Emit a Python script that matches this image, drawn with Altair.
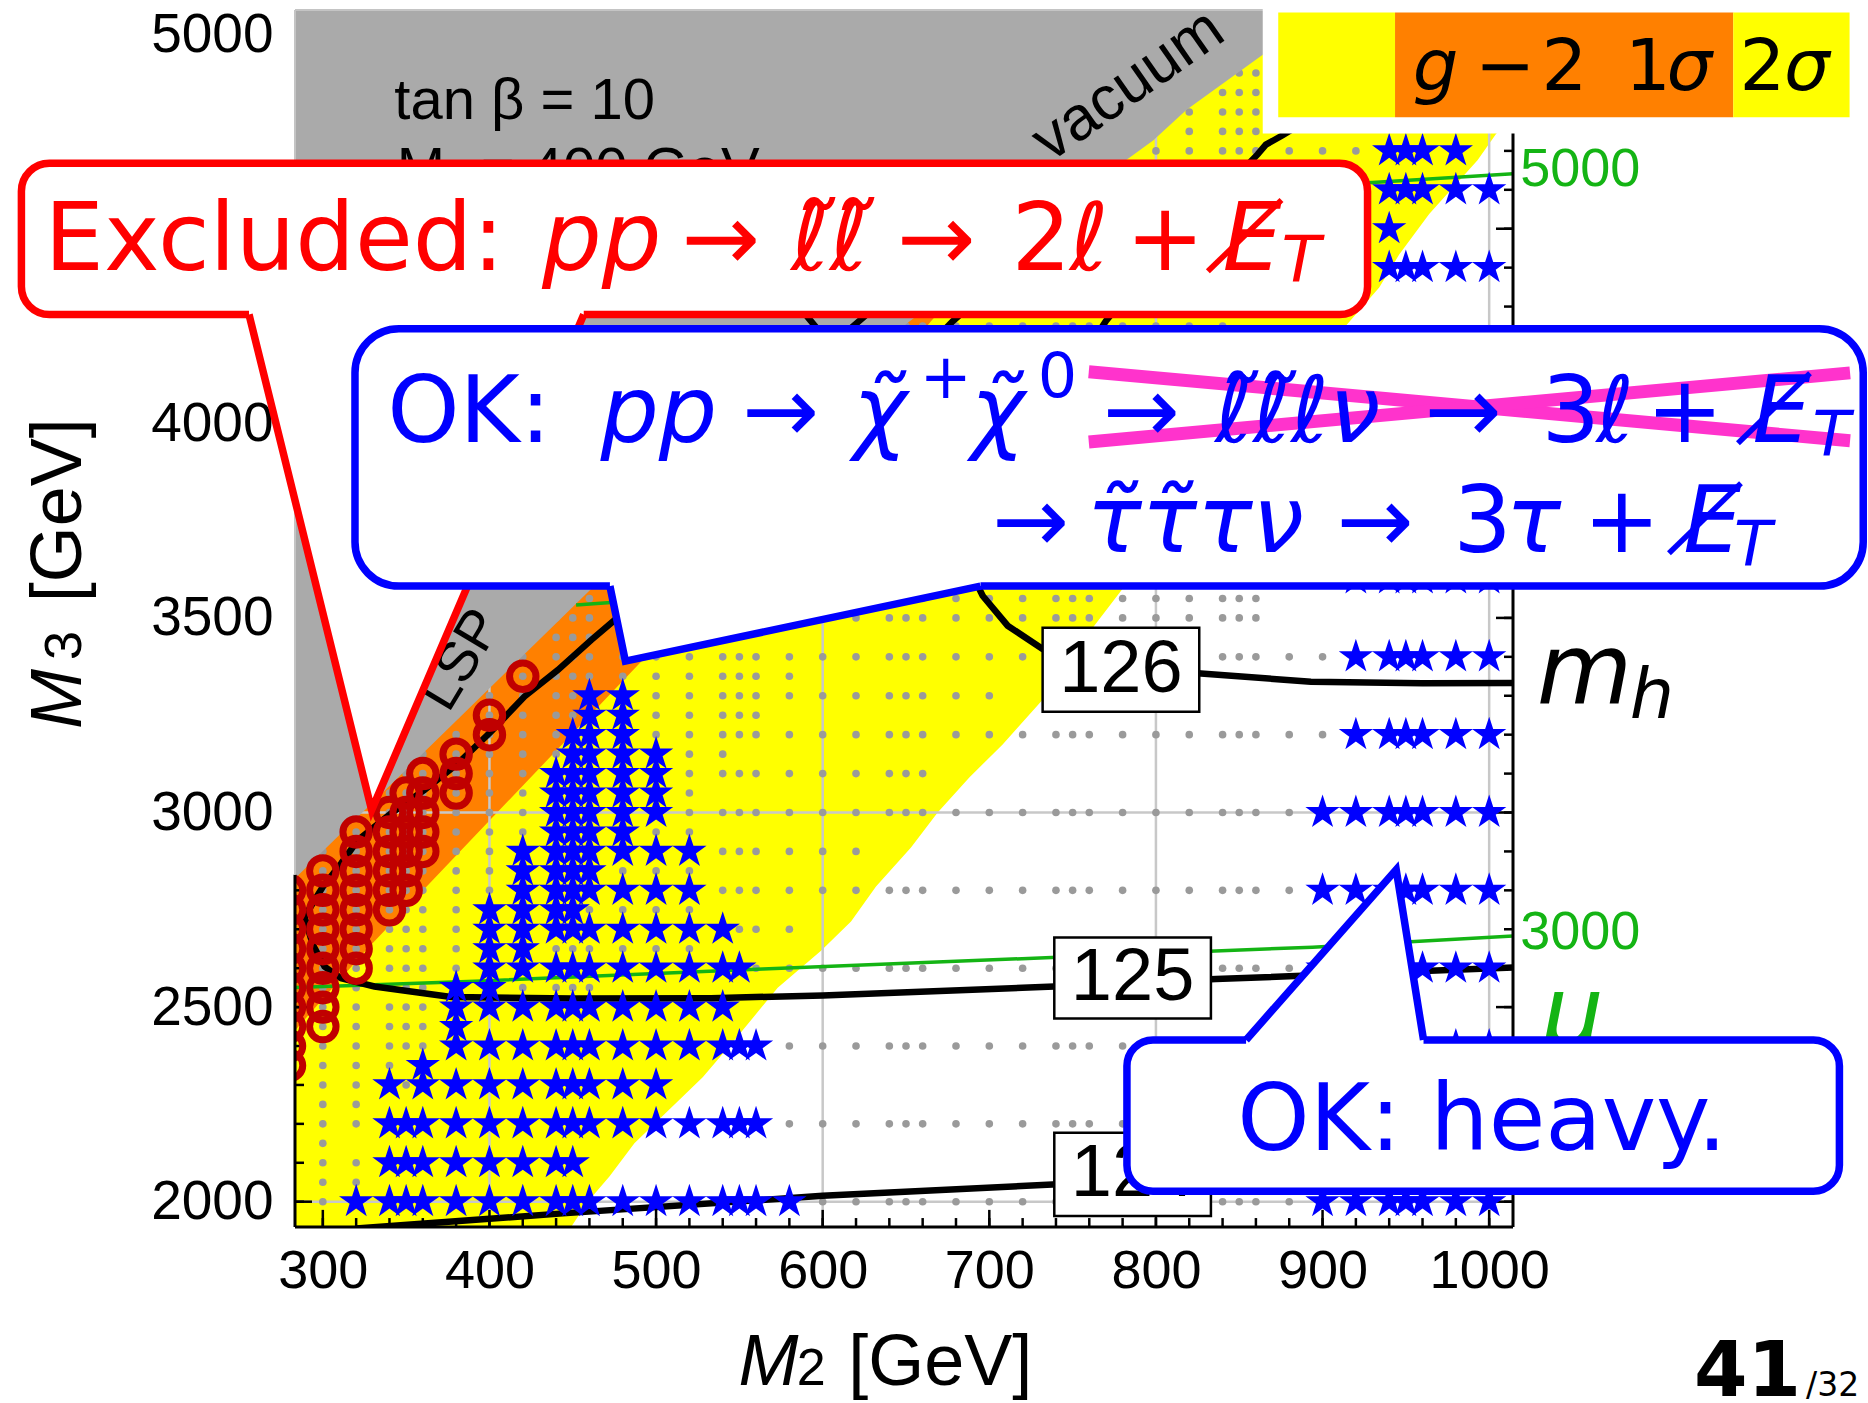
import altair as alt
import pandas as pd

# ------------------------------------------------------------------
# values
# ------------------------------------------------------------------
x_tick_labels = [300, 400, 500, 600, 700, 800, 900, 1000]
y_tick_labels = [2000, 2500, 3000, 3500, 4000, 4500, 5000]
x_grid = [400, 600, 800, 1000]
y_grid = [2000, 3000, 4000, 5000]
x_minor = list(range(300, 1001, 20))
x_major = list(range(300, 1001, 100))
y_minor = list(range(2000, 5001, 100))
y_major = list(range(2000, 5001, 500))

# scan columns in M2
m2_columns = [300, 320, 340, 350, 360, 380, 400, 420, 440, 450, 460, 480,
              500, 520, 540, 550, 560, 580, 600, 620, 640, 650, 660, 680,
              700, 720, 740, 750, 760, 780, 800, 820, 840, 850, 860, 880,
              900, 920, 940, 950, 960, 980, 1000]

# grey scan points: (M3 row, last M2 column with a point)
dot_rows = [
    (2000, 1000), (2050, 320), (2100, 450), (2150, 300), (2200, 1000), (2250, 320),
    (2300, 500), (2350, 340), (2400, 1000), (2450, 360), (2500, 540), (2550, 460),
    (2600, 1000), (2650, 520), (2700, 580), (2750, 520), (2800, 1000), (2850, 520),
    (2900, 620), (2950, 520), (3000, 1000), (3050, 520), (3100, 660), (3150, 540),
    (3200, 1000), (3250, 560), (3300, 700), (3350, 580), (3400, 1000), (3450, 520),
    (3500, 860), (3550, 860), (4250, 840), (4700, 920), (4750, 860), (4800, 860),
    (4850, 860), (4900, 860), (4950, 860), (5000, 860),
]

# blue stars (allowed points): M3 row -> M2 values
star_rows = {
    2000: [320, 340, 350, 360, 380, 400, 420, 440, 450, 460, 480, 500, 520, 540, 550, 560, 580,
           900, 920, 940, 950, 960, 980, 1000],
    2100: [340, 350, 360, 380, 400, 420, 440, 450],
    2200: [340, 350, 360, 380, 400, 420, 440, 450, 460, 480, 500, 520, 540, 550, 560,
           900, 920, 940, 950, 960, 980, 1000],
    2300: [340, 360, 380, 400, 420, 440, 450, 460, 480, 500],
    2350: [360],
    2400: [380, 400, 420, 440, 450, 460, 480, 500, 520, 540, 550, 560,
           900, 920, 940, 950, 960, 980, 1000],
    2450: [380],
    2500: [380, 400, 420, 440, 450, 460, 480, 500, 520, 540],
    2550: [380, 400],
    2600: [400, 420, 440, 450, 460, 480, 500, 520, 540, 550,
           900, 920, 940, 950, 960, 980, 1000],
    2650: [400, 420],
    2700: [400, 420, 440, 450, 460, 480, 500, 520, 540],
    2750: [400, 420, 440, 450],
    2800: [420, 440, 450, 460, 480, 500, 520, 900, 920, 940, 950, 960, 980, 1000],
    2850: [420, 440, 450, 460],
    2900: [420, 440, 450, 460, 480, 500, 520],
    2950: [440, 450, 460, 480],
    3000: [440, 450, 460, 480, 500, 900, 920, 940, 950, 960, 980, 1000],
    3050: [440, 450, 460, 480, 500],
    3100: [440, 450, 460, 480, 500],
    3150: [450, 460, 480, 500],
    3200: [450, 460, 480, 920, 940, 950, 960, 980, 1000],
    3250: [460, 480],
    3300: [460, 480],
    3400: [920, 940, 950, 960, 980, 1000],
    3600: [920, 940, 950, 960, 980, 1000],
    4400: [940, 950, 960, 980, 1000],
    4500: [940],
    4600: [940, 950, 960, 980, 1000],
    4700: [940, 950, 960, 980],
}

# dark-red rings (excluded points): M2 column -> M3 values
ring_cols = {
    280: [2350, 2400, 2450, 2500, 2550, 2600, 2650, 2700, 2750, 2800],
    300: [2450, 2500, 2550, 2600, 2650, 2700, 2750, 2800, 2850],
    320: [2600, 2650, 2700, 2750, 2800, 2850, 2900, 2950],
    340: [2750, 2800, 2850, 2900, 2950, 3000],
    350: [2800, 2850, 2900, 2950, 3000, 3050],
    360: [2900, 2950, 3000, 3050, 3100],
    380: [3050, 3100, 3150],
    400: [3200, 3250],
    420: [3350],
}

# region boundaries (M3 -> M2 of the right edge)
yellow_m3 = [1900, 1935, 2000, 2065, 2150, 2225, 2320, 2430, 2550, 2645, 2720, 2810, 2910,
             3000, 3090, 3175, 3290, 3480, 3575, 3800, 4000, 4251, 4349, 4434, 4538, 4676,
             4743, 4800, 5100]
yellow_m2 = [443, 449, 459, 472, 487, 505, 528, 550, 573, 599, 617, 632, 653,
             669, 688, 708, 732, 763, 780, 830, 870, 914, 934, 946, 964, 993,
             1004, 1016, 1016]
orange_m3 = [2380, 2440, 2647, 3392, 3800, 4262, 4380]
orange_m2 = [271, 283.3, 326, 492, 575, 665, 689]
gray_m3 = [2790, 2835, 3572, 4261, 4678, 4727, 4806, 4947, 5100]
gray_m2 = [273, 284.3, 460.4, 651.8, 782.6, 798.3, 818.4, 864.1, 910]

# Higgs-mass contours
c124_m2 = [320, 444, 600, 741, 832, 1020]
c124_m3 = [1931, 1970, 2015, 2045, 2065, 2112]
c125_m2 = [1020, 836, 739, 600, 533, 450, 377, 331, 311, 301, 294, 289, 300, 311, 321, 341,
           361, 381, 401, 421, 441, 461, 475, 560, 630, 678, 740]
c125_m3 = [2603, 2572, 2553, 2530, 2523, 2522, 2526, 2553, 2574, 2604, 2660, 2732, 2809, 2869,
           2929, 2998, 3058, 3126, 3208, 3298, 3366, 3443, 3494, 3800, 4050, 4262, 4500]
c126_m2 = [1020, 960, 893, 825, 800, 760, 732, 711, 696, 689, 700, 730, 770, 800, 861, 866,
           876, 882, 900]
c126_m3 = [3333, 3332, 3336, 3358, 3365, 3385, 3420, 3480, 3557, 3618, 3800, 4000, 4263,
           4420, 4691, 4716, 4740, 4756, 4820]
cv_m2 = [580, 605, 640]
cv_m3 = [4330, 4200, 4330]

# mu contours (green)
g3000_m2 = [275, 400, 564, 741, 894, 1020]
g3000_m3 = [2549, 2568, 2598, 2628, 2654, 2684]
g4000_m2 = [452, 475, 600, 800, 1020]
g4000_m3 = [3533, 3540, 3565, 3605, 3650]
g5000_m2 = [761, 850, 930, 1020]
g5000_m3 = [4590, 4605, 4619, 4643]

# ------------------------------------------------------------------
# styling
# ------------------------------------------------------------------
RED = "#FF0000"
BLUE = "#0000FF"
GREEN = "#14B414"
BLACK = "#000000"
STAR = ("M0,-1L0.2245,-0.309L0.9511,-0.309L0.3633,0.118L0.5878,0.809L0,0.382"
        "L-0.5878,0.809L-0.3633,0.118L-0.9511,-0.309L-0.2245,-0.309Z")

XLO, XHI = 283.3, 1014.3
YLO, YHI = 1935, 5062
XS = alt.Scale(domain=[XLO, XHI], nice=False, zero=False)
YS = alt.Scale(domain=[YLO, YHI], nice=False, zero=False)
AX = alt.Axis(values=x_tick_labels, title=None, grid=False, ticks=False, domain=False,
              labelFont="Liberation Sans", labelFontSize=54, labelColor="black",
              labelPadding=17, labelFlush=False, labelOverlap=False, format="d")
AY = alt.Axis(values=y_tick_labels, title=None, grid=False, ticks=False, domain=False,
              labelFont="Liberation Sans", labelFontSize=55, labelColor="black",
              labelPadding=22, labelFlush=False, labelOverlap=False, format="d")


def X(f="x"):
    return alt.X(f"{f}:Q", scale=XS, axis=AX, title=None)


def Y(f="y"):
    return alt.Y(f"{f}:Q", scale=YS, axis=AY, title=None)


def hregion(m3s, m2s, color):
    df = pd.DataFrame({"y": m3s, "x": m2s, "x2": [250] * len(m3s)})
    return alt.Chart(df).mark_area(orient="horizontal", color=color, clip=True).encode(
        y=Y(), x=X(), x2="x2:Q")


def rules(rows, color, width, clip=True, cap="butt"):
    df = pd.DataFrame(rows, columns=["x", "y", "x2", "y2"])
    return alt.Chart(df).mark_rule(color=color, strokeWidth=width, clip=clip,
                                   strokeCap=cap).encode(
        x=X(), y=Y(), x2="x2:Q", y2="y2:Q")


def polylines(items, color, width, clip=True):
    recs = []
    for k, (xs_, ys_) in enumerate(items):
        for i, (a, b) in enumerate(zip(xs_, ys_)):
            recs.append({"x": a, "y": b, "k": k, "i": i})
    df = pd.DataFrame(recs)
    return alt.Chart(df).mark_line(color=color, strokeWidth=width, clip=clip,
                                   strokeJoin="miter").encode(
        x=X(), y=Y(), detail="k:N", order="i:Q")


def texts(rows, font, style="normal", weight="normal", align="left",
          baseline="alphabetic", angle=0):
    df = pd.DataFrame(rows, columns=["t", "x", "y", "s", "c"])
    return alt.Chart(df).mark_text(font=font, fontStyle=style, fontWeight=weight,
                                   align=align, baseline=baseline, angle=angle,
                                   clip=False).encode(
        x=X(), y=Y(), text="t:N",
        size=alt.Size("s:Q", scale=None), color=alt.Color("c:N", scale=None))


def box(x1, x2, y1, y2, stroke, width, radius, fill="white"):
    df = pd.DataFrame({"x": [x1], "x2": [x2], "y": [y1], "y2": [y2]})
    kw = dict(fill=fill, cornerRadius=radius, clip=False)
    if stroke is not None:
        kw.update(stroke=stroke, strokeWidth=width)
    else:
        kw.update(strokeWidth=0)
    return alt.Chart(df).mark_rect(**kw).encode(x=X(), x2="x2:Q", y=Y(), y2="y2:Q")


def tail_fill(xs_, ys_, y2):
    df = pd.DataFrame({"x": xs_, "y": ys_, "y2": [y2] * len(xs_)})
    return alt.Chart(df).mark_area(color="white", orient="vertical", clip=False,
                                   interpolate="linear").encode(
        x=X(), y=Y(), y2="y2:Q")


layers = []

# regions
layers.append(hregion(yellow_m3, yellow_m2, "#FFFF00"))
layers.append(hregion(orange_m3, orange_m2, "#FF8000"))

# grid lines
grid_rows = [(g, YLO, g, YHI) for g in x_grid] + [(XLO, g, XHI, g) for g in y_grid]
layers.append(rules(grid_rows, "#C8C8C8", 2.5))

# inward ticks
tick_rows = []
for v in x_minor:
    tick_rows.append((v, YLO, v, YLO + 23))
for v in x_major:
    tick_rows.append((v, YLO, v, YLO + 44))
for v in y_minor:
    tick_rows.append((XLO, v, XLO + 5.4, v))
    tick_rows.append((XHI - 5.4, v, XHI, v))
for v in y_major:
    tick_rows.append((XLO, v, XLO + 10.2, v))
    tick_rows.append((XHI - 10.2, v, XHI, v))
layers.append(rules(tick_rows, BLACK, 2.5))

# grey scan points
dots = [{"x": c, "y": r} for r, hi in dot_rows for c in m2_columns if c <= hi]
layers.append(alt.Chart(pd.DataFrame(dots)).mark_circle(
    size=58, color="#9A9A9A", opacity=1, clip=True).encode(x=X(), y=Y()))

# grey excluded region
layers.append(hregion(gray_m3, gray_m2, "#AAAAAA"))

# text inside the grey region
layers.append(texts([("tan β = 10", 342.9, 4781.6, 58, BLACK),
                     ("M₁ = 400 GeV", 344.3, 4604, 58, BLACK)], "Liberation Sans"))
layers.append(texts([("vacuum", 783.3, 4868.8, 62, BLACK)], "Liberation Sans",
                    align="center", baseline="middle", angle=325))
layers.append(texts([("LSP", 383.0, 3392, 56, BLACK)], "Liberation Sans",
                    align="center", baseline="middle", angle=301))

# mu contours and Higgs-mass contours
layers.append(polylines([(g3000_m2, g3000_m3), (g4000_m2, g4000_m3), (g5000_m2, g5000_m3)],
                        GREEN, 3.5))
layers.append(polylines([(c124_m2, c124_m3), (c125_m2, c125_m3), (c126_m2, c126_m3),
                         (cv_m2, cv_m3)], BLACK, 6.5))

# contour label boxes
for (bx1, bx2, by1, by2) in [(732, 826, 3259, 3475), (739, 833, 2471, 2679),
                             (739, 833, 1963, 2177)]:
    layers.append(box(bx1, bx2, by1, by2, BLACK, 2.5, 0))
layers.append(texts([("126", 779, 3367, 74, BLACK), ("125", 786, 2575, 74, BLACK),
                     ("124", 786, 2070, 74, BLACK)], "Liberation Sans",
                    align="center", baseline="middle"))

# stars and rings
stars = [{"x": c, "y": r} for r, cols in star_rows.items() for c in cols]
layers.append(alt.Chart(pd.DataFrame(stars)).mark_point(
    shape=STAR, filled=True, color=BLUE, size=1300, opacity=1, strokeWidth=0,
    clip=True).encode(x=X(), y=Y()))
rings = [{"x": c, "y": r} for c, rows in ring_cols.items() for r in rows]
layers.append(alt.Chart(pd.DataFrame(rings)).mark_point(
    shape="circle", filled=False, color="#C00000", size=700, strokeWidth=7, opacity=1,
    clip=True).encode(x=X(), y=Y()))

# frame
layers.append(rules([(XLO, YLO, XHI, YLO), (XHI, YLO, XHI, YHI), (XLO, YLO, XLO, 2840)],
                    BLACK, 3, clip=False))
layers.append(rules([(XLO, 2840, XLO, YHI), (XLO, YHI, XHI, YHI)], "#C4C4C4", 2,
                    clip=False))

# legend (g-2)
layers.append(box(864.1, 1240, 4744.9, 5100, None, 0, 0))
layers.append(box(873.4, 943.5, 4786.2, 5055.3, None, 0, 0, fill="#FFFF00"))
layers.append(box(943.5, 1146.5, 4786.2, 5055.3, None, 0, 0, fill="#FF8000"))
layers.append(box(1146.5, 1216.3, 4786.2, 5055.3, None, 0, 0, fill="#FFFF00"))
layers.append(texts([("−", 991.4, 4856.6, 72, BLACK), ("2", 1031.4, 4856.6, 72, BLACK),
                     ("1", 1081.5, 4856.6, 72, BLACK), ("2", 1150.3, 4856.6, 72, BLACK)],
                    "DejaVu Sans"))
layers.append(texts([("g", 954.2, 4856.6, 72, BLACK), ("σ", 1106.5, 4856.6, 72, BLACK),
                     ("σ", 1177.0, 4856.6, 72, BLACK)], "DejaVu Sans", style="italic"))

# right-hand labels
layers.append(texts([("5000", 1018.6, 4650, 54, GREEN), ("3000", 1018.6, 2691, 54, GREEN)],
                    "Liberation Sans", baseline="middle"))
layers.append(texts([("m", 1028.6, 3281.8, 98, BLACK), ("h", 1084.3, 3242, 70, BLACK),
                     ("μ", 1031.4, 2400, 98, GREEN)], "DejaVu Sans", style="italic"))

# ---- red callout ----
layers.append(box(119.1, 927.0, 4279.6, 4668.4, RED, 7.5, 28))
layers.append(tail_fill([255.7, 329.3, 456.6], [4279.6, 3006.3, 4279.6], 4305))
layers.append(polylines([([255.7, 329.3, 456.6], [4279.6, 3006.3, 4279.6])], RED, 7.5,
                        clip=False))
layers.append(texts([("Excluded:", 133.0, 4392.9, 94, RED), ("→", 515.2, 4392.9, 94, RED),
                     ("→", 644.6, 4392.9, 94, RED), ("2", 713.3, 4392.9, 94, RED),
                     ("+", 781.9, 4392.9, 94, RED)], "DejaVu Sans"))
layers.append(texts([("pp", 431.6, 4392.9, 94, RED), ("ℓ̃ℓ̃", 581.0, 4392.9, 94, RED),
                     ("ℓ", 748.3, 4392.9, 94, RED), ("E̸", 840.0, 4392.9, 94, RED),
                     ("T", 875.4, 4362.3, 64, RED)], "DejaVu Sans", style="italic"))

# ---- blue callout (chargino / neutralino) ----
layers.append(box(319.3, 1224.5, 3581.7, 4242.9, BLUE, 7.5, 44))
layers.append(tail_fill([472.3, 481.6, 694.7], [3581.7, 3388.9, 3581.7], 3610))
layers.append(polylines([([472.3, 481.6, 694.7], [3581.7, 3388.9, 3581.7])], BLUE, 7.5,
                        clip=False))
layers.append(rules([(759.7, 4132.7, 1216.6, 3955.2), (759.7, 3952.1, 1216.6, 4129.6)],
                    "#FF33CC", 13, clip=False))
layers.append(texts([("OK:", 338.6, 3952.1, 92, BLUE), ("→", 551.7, 3952.1, 92, BLUE),
                     ("+", 658.2, 4063.8, 62, BLUE), ("0", 729.0, 4068.4, 62, BLUE),
                     ("→", 768.3, 3952.1, 92, BLUE), ("→", 961.4, 3952.1, 92, BLUE),
                     ("3", 1031.4, 3952.1, 92, BLUE), ("+", 1094.3, 3952.1, 92, BLUE),
                     ("→", 701.8, 3670.5, 92, BLUE), ("→", 908.5, 3670.5, 92, BLUE),
                     ("3", 978.5, 3670.5, 92, BLUE), ("+", 1056.5, 3670.5, 92, BLUE)],
                    "DejaVu Sans"))
layers.append(texts([("pp", 466.6, 3952.1, 92, BLUE), ("χ̃", 618.2, 3952.1, 92, BLUE),
                     ("χ̃", 688.9, 3952.1, 92, BLUE), ("ℓ̃ℓ̃ℓν", 835.5, 3952.1, 92, BLUE),
                     ("ℓ", 1064.3, 3952.1, 92, BLUE), ("E̸", 1158.0, 3952.1, 92, BLUE),
                     ("T", 1194.0, 3918.4, 62, BLUE),
                     ("τ̃τ̃τν", 758.3, 3670.5, 92, BLUE), ("τ", 1010.0, 3670.5, 92, BLUE),
                     ("E̸", 1116.5, 3670.5, 92, BLUE), ("T", 1147.0, 3636.8, 62, BLUE)],
                    "DejaVu Sans", style="italic"))

# ---- blue callout (heavy) ----
layers.append(box(782.6, 1210.2, 2026.8, 2415.6, BLUE, 7.5, 26))
layers.append(tail_fill([854.1, 944.2, 960.6], [2415.6, 2853.2, 2415.6], 2390))
layers.append(polylines([([854.1, 944.2, 960.6], [2415.6, 2853.2, 2415.6])], BLUE, 7.5,
                        clip=False))
layers.append(texts([("OK: heavy.", 995.7, 2134.0, 92, BLUE)], "DejaVu Sans",
                    align="center"))

# axis titles and page number
layers.append(texts([("M", 549.5, 1527.9, 72, BLACK)], "Liberation Sans", style="italic"))
layers.append(texts([("2", 584.5, 1527.9, 52, BLACK), ("[GeV]", 615.3, 1527.9, 72, BLACK)],
                    "Liberation Sans"))
layers.append(texts([("M", 154.9, 3214.5, 72, BLACK)], "Liberation Sans", style="italic",
                    angle=270))
layers.append(texts([("3", 154.9, 3392.0, 52, BLACK), ("[GeV]", 154.9, 3540.0, 72, BLACK)],
                    "Liberation Sans", angle=270))
layers.append(texts([("41", 1122.9, 1500.3, 77, BLACK)], "DejaVu Sans", weight="bold"))
layers.append(texts([("/32", 1190.2, 1500.3, 33, BLACK)], "DejaVu Sans"))

chart = alt.layer(*layers).properties(
    width=1218, height=1217,
    autosize=alt.AutoSizeParams(type="none"),
    padding={"left": 295, "top": 10, "right": 355, "bottom": 176},
    background="white",
).configure_view(stroke=None)

chart.save("out.html", embed_options={"renderer": "svg", "actions": False})
